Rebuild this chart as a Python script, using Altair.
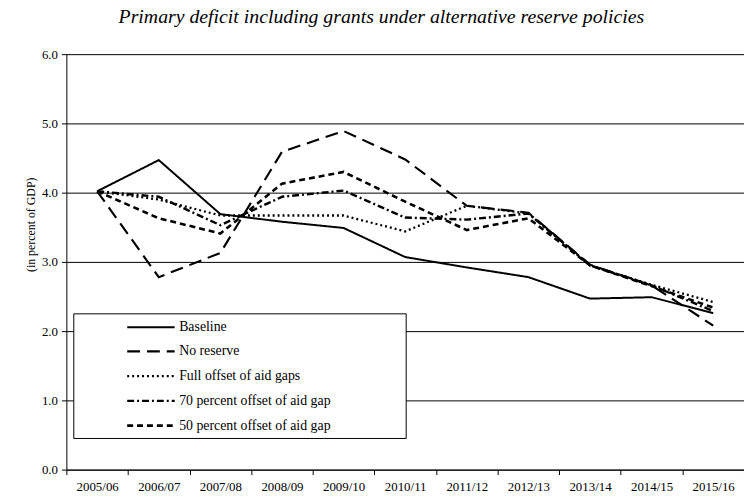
import altair as alt
import pandas as pd

years = ["2005/06", "2006/07", "2007/08", "2008/09", "2009/10", "2010/11",
         "2011/12", "2012/13", "2013/14", "2014/15", "2015/16"]

series_names = ["Baseline", "No reserve", "Full offset of aid gaps",
                "70 percent offset of aid gap", "50 percent offset of aid gap"]

baseline = [4.02, 4.47, 3.69, 3.58, 3.49, 3.07, 2.92, 2.78, 2.47, 2.49, 2.26]
no_reserve = [4.02, 2.78, 3.13, 4.59, 4.89, 4.48, 3.81, 3.71, 2.96, 2.66, 2.08]
full_offset = [4.02, 3.90, 3.67, 3.67, 3.67, 3.44, 3.81, 3.70, 2.95, 2.67, 2.42]
offset_70 = [4.02, 3.94, 3.53, 3.94, 4.03, 3.64, 3.61, 3.70, 2.95, 2.66, 2.29]
offset_50 = [4.02, 3.63, 3.41, 4.13, 4.30, 3.87, 3.46, 3.63, 2.95, 2.65, 2.34]

all_series = [baseline, no_reserve, full_offset, offset_70, offset_50]

rows = []
for name, vals in zip(series_names, all_series):
    for y, v in zip(years, vals):
        rows.append({"year": y, "value": v, "series": name})
df = pd.DataFrame(rows)

FONT = "Liberation Serif"

pad = "\u2800" * 7
legend = alt.Legend(
    title=None, orient="none", legendX=7, legendY=262,
    symbolType="M-3,0H3", symbolSize=256, symbolOffset=64,
    labelOffset=19, labelFont=FONT, labelFontSize=14, labelColor="black",
    labelLimit=500, rowPadding=8, padding=5,
    strokeColor="black", fillColor="white", cornerRadius=0,
    labelExpr="datum.label + '" + pad + "'",
)

chart = alt.Chart(df).mark_line(strokeCap="butt").encode(
    x=alt.X("year:N", sort=years, title=None,
            scale=alt.Scale(type="band", paddingInner=0, paddingOuter=0),
            axis=alt.Axis(tickBand="extent", labelAngle=0, grid=False,
                          domainColor="black", tickColor="black", tickSize=5,
                          labelFont=FONT, labelFontSize=13, labelColor="black",
                          labelPadding=6)),
    y=alt.Y("value:Q", title="(in percent of GDP)",
            scale=alt.Scale(domain=[0, 6], nice=False),
            axis=alt.Axis(values=[0, 1, 2, 3, 4, 5, 6], format=".1f",
                          grid=True, gridColor="black", gridOpacity=1, gridWidth=1,
                          domainColor="black", tickColor="black", tickSize=5,
                          labelFont=FONT, labelFontSize=13, labelColor="black",
                          labelPadding=4,
                          titleFont=FONT, titleFontSize=12, titleFontWeight="normal",
                          titleColor="black", titleX=-36, titleY=172,
                          titleAngle=270, titleAlign="center", titleBaseline="middle")),
    color=alt.Color("series:N", sort=series_names,
                    scale=alt.Scale(domain=series_names, range=["black"] * 5),
                    legend=legend),
    strokeDash=alt.StrokeDash("series:N", sort=series_names,
                              scale=alt.Scale(domain=series_names,
                                              range=[[1, 0], [13, 7], [2, 3], [7, 3, 2, 3], [6, 4]]),
                              legend=legend),
    strokeWidth=alt.StrokeWidth("series:N", sort=series_names,
                                scale=alt.Scale(domain=series_names,
                                                range=[2, 2.6, 1.6, 1.4, 1.1]),
                                legend=legend),
).properties(
    width=685, height=420,
    title=alt.TitleParams(
        "Primary deficit including grants under alternative reserve policies",
        font=FONT, fontSize=20, fontStyle="italic", fontWeight="normal",
        color="black", anchor="middle", dx=-24, dy=-18),
    autosize=alt.AutoSizeParams(type="none"),
    padding={"left": 59, "top": 44, "right": 0, "bottom": 25},
).configure_view(stroke=None)

chart.save("out.html", embed_options={"renderer": "svg", "actions": False})
